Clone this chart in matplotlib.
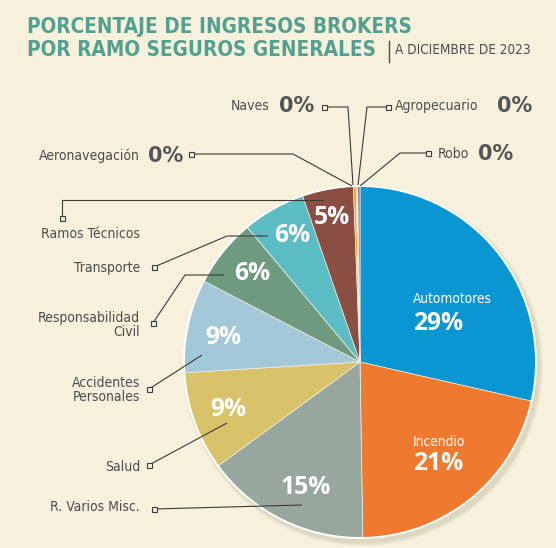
import os
import numpy as np
import matplotlib.pyplot as plt
from matplotlib import font_manager as fm
from matplotlib.patches import Circle

# --- datos ---
ramos = ['Automotores', 'Incendio', 'R. Varios Misc.', 'Salud', 'Accidentes\nPersonales',
         'Responsabilidad\nCivil', 'Transporte', 'Ramos Técnicos', 'Aeronavegación',
         'Naves', 'Agropecuario', 'Robo']
porcentaje = [28.6, 21.2, 15.2, 9.1, 8.6, 6.3, 5.8, 4.7, 0.25, 0.1, 0.05, 0.2]
colores = ['#0a96d2', '#ef7a2f', '#98a79d', '#d9c36a', '#a2c8d9', '#6e9b80',
           '#5cbcc3', '#8b4e42', '#f2a229', '#eeb43a', '#a07ab0', '#9467a6']
etiquetas = [f"{round(p)}%" for p in porcentaje]

titulo1 = 'PORCENTAJE DE INGRESOS BROKERS'
titulo2 = 'POR RAMO SEGUROS GENERALES'
subtitulo = 'A DICIEMBRE DE 2023'


# --- fuentes: busca una angosta si existe ---
def buscar_fuente(candidatos):
    archivos = {os.path.basename(f.fname).lower(): f.fname for f in fm.fontManager.ttflist}
    for c in candidatos:
        if c.lower() in archivos:
            return fm.FontProperties(fname=archivos[c.lower()])
    return None


ANG = buscar_fuente(['LiberationSansNarrow-Regular.ttf', 'DejaVuSansCondensed.ttf'])
ANG_B = buscar_fuente(['LiberationSansNarrow-Bold.ttf', 'DejaVuSansCondensed-Bold.ttf'])
if ANG is None:
    ANG = fm.FontProperties(family='Liberation Sans')
if ANG_B is None:
    ANG_B = fm.FontProperties(family='Liberation Sans', weight='bold')
PCT = fm.FontProperties(family='Open Sans', weight='bold')
CERO = fm.FontProperties(family='DejaVu Sans', weight='bold')

FONDO = '#f6f0dd'
TEAL = '#52a08f'
GRIS = '#4d4d4d'
LINEA = '#3a3a3a'

W, H = 556, 548
CX, CY, R = 360, 362, 176

fig = plt.figure(figsize=(W / 100, H / 100), dpi=100)
fig.patch.set_facecolor(FONDO)
ax = fig.add_axes([0, 0, 1, 1])
ax.set_facecolor(FONDO)
renderer = fig.canvas.get_renderer()


def texto(x, y, s, prop, ancho, color, ha='left', ref=None, **kw):
    """Texto cuyo tamaño se ajusta para que 'ref' (o s) mida 'ancho' pixeles."""
    t = ax.text(x, y, s, fontproperties=prop.copy(), color=color, ha=ha,
                va='center', zorder=6, **kw)
    medir = ax.text(0, 0, ref or s, fontproperties=prop.copy())
    medir.set_fontsize(12)
    w = medir.get_window_extent(renderer).width
    medir.remove()
    t.set_fontsize(12 * ancho / w)
    return t


# sombra suave
for k, a in enumerate([0.05, 0.05, 0.06, 0.07]):
    ax.add_patch(Circle((CX + 3, CY + 4), R + 4 - k, color='#8a7f60', alpha=a, lw=0, zorder=1))

wedges, _ = ax.pie(porcentaje, colors=colores, startangle=-90, counterclock=True,
                   center=(CX, CY), radius=R,
                   wedgeprops=dict(edgecolor='#f4f1e6', linewidth=0.5, zorder=2))
ax.add_patch(Circle((CX, CY), R, fill=False, ec='white', lw=1.4, zorder=3))

ax.set_xlim(0, W)
ax.set_ylim(H, 0)
ax.set_aspect('equal')
ax.axis('off')

# --- textos dentro de las porciones ---
# (indice, x, y, alineacion)
dentro = [(0, 413, 323, 'left'), (1, 413, 464, 'left'), (2, 306, 487, 'center'),
          (3, 228, 409, 'center'), (4, 223, 338, 'center'), (5, 252, 274, 'center'),
          (6, 292, 236, 'center'), (7, 332, 218, 'center')]
for i, x, y, ha in dentro:
    texto(x, y, etiquetas[i], PCT, 50, 'white', ha=ha, ref='29%')
texto(413, 299, ramos[0], ANG, 79, 'white')
texto(413, 442, ramos[1], ANG, 79, 'white', ref=ramos[0])

# --- etiquetas exteriores con lineas guia ---
# (indice, x texto, y texto, alineacion, x del 0%, trazo)
fuera = [
    (9, 270, 106, 'right', 279, [(324, 107), (348, 107), (353, 185)]),
    (10, 395, 106, 'left', 497, [(388, 107), (367, 107), (358, 185)]),
    (11, 438, 154, 'left', 478, [(428, 153), (400, 153), (360, 186)]),
    (8, 140, 156, 'right', 148, [(191, 154), (293, 154), (352, 186)]),
    (7, 140, 234, 'right', None, [(62, 218), (62, 200), (323, 200)]),
    (6, 140, 268, 'right', None, [(154, 267), (227, 236), (268, 236)]),
    (5, 140, 325, 'right', None, [(153, 323), (185, 275), (224, 275)]),
    (4, 140, 390, 'right', None, [(149, 389), (202, 355)]),
    (3, 140, 467, 'right', None, [(149, 465), (227, 423)]),
    (2, 140, 507, 'right', None, [(154, 509), (302, 505)]),
]
for i, x, y, ha, xp, trazo in fuera:
    texto(x, y, ramos[i], ANG, 101, GRIS, ha=ha, ref='Aeronavegación',
          multialignment='right', linespacing=1.0)
    if xp is not None:
        texto(xp, y, etiquetas[i], CERO, 35, '#555555')
    xs, ys = zip(*trazo)
    ax.plot(xs, ys, color=LINEA, lw=0.8, zorder=6, solid_capstyle='butt')
    ax.plot(xs[0], ys[0], marker='s', ms=3.6, mfc=FONDO, mec=LINEA, mew=0.8, zorder=7)

# --- titulo ---
texto(27, 27, titulo1, ANG_B, 386, TEAL)
texto(27, 50, titulo2, ANG_B, 386, TEAL, ref=titulo1)
ax.plot([389, 389], [41, 62], color=GRIS, lw=1.0)
texto(395, 50, subtitulo, ANG, 135, GRIS)

fig.savefig('out.png', dpi=100, facecolor=FONDO)
